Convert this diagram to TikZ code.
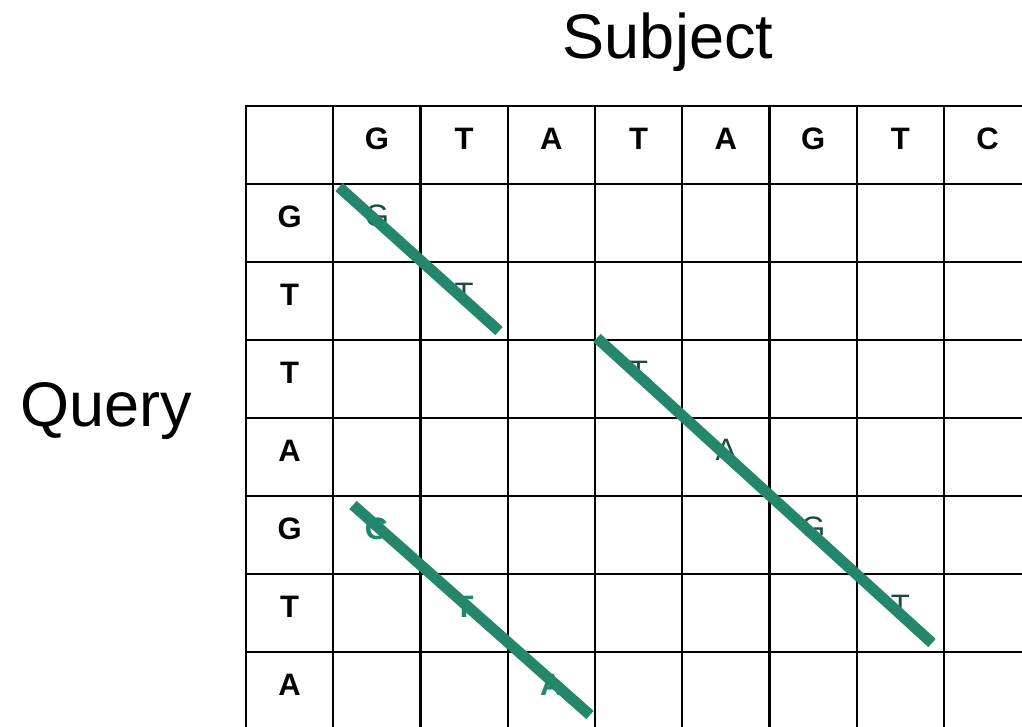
\documentclass[tikz,border=0pt]{standalone}
\usepackage{fontspec}
\setmainfont{Liberation Sans}
\definecolor{hitline}{RGB}{36,135,108}
\definecolor{hitdark}{RGB}{28,74,64}
\begin{document}
\begin{tikzpicture}[x=1pt,y=-1pt,
  cell/.style={draw=black, line width=2.2pt, minimum width=87.25pt, minimum height=78pt, inner sep=0pt, outer sep=0pt},
  base/.style={font=\fontsize{31}{31}\selectfont\bfseries, anchor=base, inner sep=0pt},
  weak/.style={font=\fontsize{31}{31}\selectfont, text=hitdark, anchor=base, inner sep=0pt},
  strong/.style={base, text=hitline},
  axis/.style={font=\fontsize{63}{63}\selectfont, anchor=base, inner sep=0pt},
  diag/.style={draw=hitline, line width=11pt, line cap=butt}]
\useasboundingbox (0,0) rectangle (1022,726);
\clip (0,0) rectangle (1022,726);

% axis titles
\node[axis] (subject) at (668,58) {Subject};
\node[axis] (query) at (106,426) {Query};

% dot-plot grid: header row/column plus 7 x 8 cells
\foreach \r in {0,...,7}
  \foreach \c in {0,...,8}
    \node[cell] (cell-\r-\c) at ({246+87.25*(\c+0.5)},{106+78*(\r+0.5)}) {};

% subject sequence
\foreach \L [count=\c] in {G,T,A,T,A,G,T,C}
  \node[base] (s\c) at ([yshift=-4.5pt]cell-0-\c.center) {\L};
% query sequence
\foreach \L [count=\r] in {G,T,T,A,G,T,A}
  \node[base] (q\r) at ([yshift=-4.5pt]cell-\r-0.center) {\L};

% matching residues
\node[weak] (m11) at ([yshift=-3pt]cell-1-1.center) {G};
\node[weak] (m22) at ([yshift=-3pt]cell-2-2.center) {T};
\node[weak] (m34) at ([yshift=-3pt]cell-3-4.center) {T};
\node[weak] (m45) at ([yshift=-3pt]cell-4-5.center) {A};
\node[weak] (m56) at ([yshift=-3pt]cell-5-6.center) {G};
\node[weak] (m67) at ([yshift=-3pt]cell-6-7.center) {T};
\node[strong] (m51) at ([yshift=-4.5pt]cell-5-1.center) {G};
\node[strong] (m62) at ([yshift=-4.5pt]cell-6-2.center) {T};
\node[strong] (m73) at ([yshift=-4.5pt]cell-7-3.center) {A};

% diagonal runs
\coordinate (d1a) at ([xshift=5.75pt,yshift=-3pt]cell-1-1.north west);
\coordinate (d1b) at ([xshift=-8.75pt,yshift=9pt]cell-2-2.south east);
\coordinate (d2a) at ([xshift=2pt,yshift=2pt]cell-3-4.north west);
\coordinate (d2b) at ([xshift=-12pt,yshift=9pt]cell-6-7.south east);
\coordinate (d3a) at ([xshift=19.75pt,yshift=-9pt]cell-5-1.north west);
\coordinate (d3b) at ([xshift=-5pt,yshift=15pt]cell-7-3.south east);
\draw[diag] (d1a) -- (d1b);
\draw[diag] (d2a) -- (d2b);
\draw[diag] (d3a) -- (d3b);
\end{tikzpicture}
\end{document}
